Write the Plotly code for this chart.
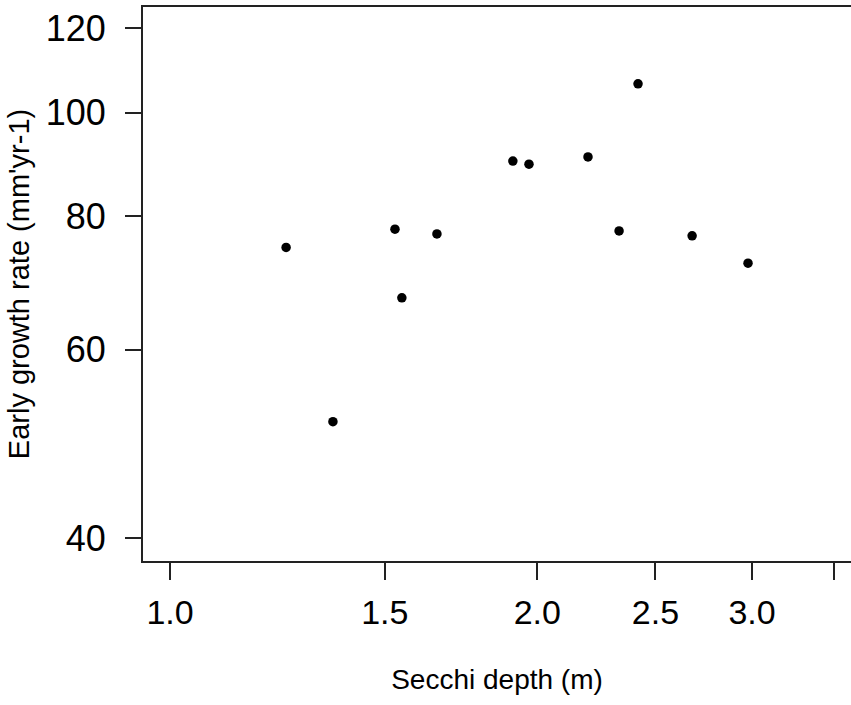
import plotly.graph_objects as go

secchi_depth = [1.245, 1.36, 1.529, 1.549, 1.655, 1.91, 1.969, 2.201, 2.334, 2.419, 2.679, 2.977]
growth_rate = [74.8, 51.4, 77.8, 67.1, 77.0, 90.1, 89.5, 90.9, 77.5, 106.4, 76.7, 72.3]

x_tickvals = [1.0, 1.5, 2.0, 2.5, 3.0, 3.5]
x_ticktext = ["1.0", "1.5", "2.0", "2.5", "3.0", ""]
y_tickvals = [40, 60, 80, 100, 120]
y_ticktext = ["40", "60", "80", "100", "120"]

FONT = "Liberation Sans, Arial, sans-serif"

fig = go.Figure()
fig.add_trace(go.Scatter(
    x=secchi_depth, y=growth_rate, mode="markers",
    marker=dict(color="black", size=9.5, line=dict(width=0)),
    showlegend=False, cliponaxis=False,
))

fig.update_layout(
    width=851, height=705,
    margin=dict(l=143, r=0, t=7, b=144),
    paper_bgcolor="white", plot_bgcolor="white",
    font=dict(family=FONT, color="black"),
)
fig.update_xaxes(
    type="log", range=[-0.02213, 0.5582],
    tickvals=x_tickvals, ticktext=x_ticktext,
    ticks="outside", ticklen=17, tickwidth=2, tickcolor="#222",
    showline=True, linewidth=2, linecolor="#222", mirror=True,
    showgrid=False, zeroline=False,
    tickfont=dict(size=34, family=FONT, color="black"),
    ticklabelstandoff=3,
    title=dict(text="Secchi depth (m)", font=dict(size=28, family=FONT, color="black"), standoff=40),
)
fig.update_yaxes(
    type="log", range=[1.5806, 2.0988],
    tickvals=y_tickvals, ticktext=y_ticktext,
    ticks="outside", ticklen=16, tickwidth=2, tickcolor="#222",
    showline=True, linewidth=2, linecolor="#222", mirror=False,
    showgrid=False, zeroline=False,
    tickfont=dict(size=36, family=FONT, color="black"),
    ticklabelstandoff=12,
    title=dict(text="Early growth rate (mm'yr-1)", font=dict(size=29, family=FONT, color="black"), standoff=8),
)

fig.write_html("out.html")
